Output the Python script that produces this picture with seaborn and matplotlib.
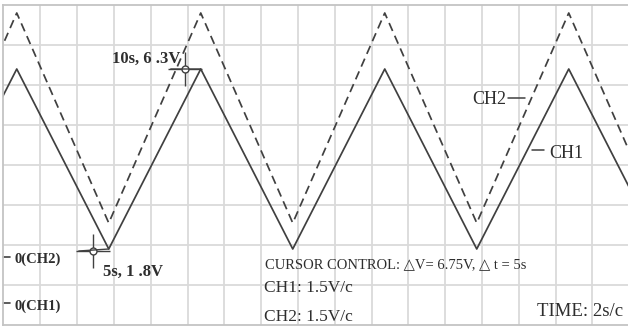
import numpy as np
import pandas as pd
import matplotlib
matplotlib.use("Agg")
import matplotlib.pyplot as plt
import matplotlib.transforms as mtransforms
import seaborn as sns

# Triangle-wave vertices: time in seconds, level in screen units (1 unit = 1 division)
vertex_t = [-5, 0, 5, 10, 15, 20, 25, 30, 35]
ch1_level = [1.8, 6.3, 1.8, 6.3, 1.8, 6.3, 1.8, 6.3, 1.8]
ch2_level = [2.45, 7.7, 2.45, 7.7, 2.45, 7.7, 2.45, 7.7, 2.45]
channels = ["CH1", "CH2"]

# Ground reference markers on the left edge
zero_level = [0.45, 1.6]
zero_labels = ["0(CH1)", "0(CH2)"]

# Cursor readouts
cursor_t = [5, 10]
cursor_v = [1.8, 6.3]
cursor_labels = ["5s, 1 .8V", "10s, 6 .3V"]

readout_text = "CURSOR CONTROL: \u25B3V= 6.75V, \u25B3 t = 5s"
scale_texts = ["CH1: 1.5V/c", "CH2: 1.5V/c"]
time_text = "TIME: 2s/c"

sns.set_theme(style="white")
plt.rcParams["font.family"] = ["Liberation Serif", "DejaVu Sans"]

W, H = 628, 327
fig = plt.figure(figsize=(W / 100, H / 100), dpi=100)
fig.patch.set_facecolor("white")
ax = fig.add_axes([3.5 / W, (H - 325) / H, 625.5 / W, 320 / H])

ink = "#404040"
txt = "#2e2e2e"

df = pd.DataFrame({
    "t": vertex_t * 2,
    "v": ch1_level + ch2_level,
    "ch": [channels[0]] * len(vertex_t) + [channels[1]] * len(vertex_t),
})
sns.lineplot(data=df, x="t", y="v", hue="ch", style="ch",
             palette={"CH1": ink, "CH2": ink},
             dashes={"CH1": "", "CH2": (5, 3)},
             linewidth=1.25, legend=False, estimator=None, sort=False, ax=ax)

t0 = -0.72
sec_per_px = 1 / 18.4
ax.set_xlim(t0, t0 + 625.5 * sec_per_px)
ax.set_ylim(-0.1, 7.9)
ax.set_xticks(np.arange(t0 + 2, t0 + 625.5 * sec_per_px, 2))
ax.set_yticks(np.arange(0.9, 7.9, 1.0))
ax.grid(True, color="#dadada", linewidth=1.3)
ax.tick_params(length=0, labelbottom=False, labelleft=False)
ax.set_xlabel("")
ax.set_ylabel("")
for s in ax.spines.values():
    s.set_color("#c4c4c4")
    s.set_linewidth(1.3)


def ax_frac(px, py):
    return ((px - 3.5) / 625.5, (325 - py) / 320)


# Cursors: crosshair with a leader to the waveform vertex
for t, v, dy in zip(cursor_t, cursor_v, [-2, 0]):
    ax.annotate("", xy=(t, v), xytext=(-30, dy), textcoords="offset pixels",
                arrowprops=dict(arrowstyle="-", color=ink, lw=1.0,
                                shrinkA=0, shrinkB=0))
    tr = mtransforms.offset_copy(ax.transData, fig=fig, x=-16, y=dy, units="dots")
    ax.plot([t], [v], marker="+", ms=24, mew=1.0, color=ink, transform=tr,
            clip_on=False)
    ax.plot([t], [v], marker="o", ms=5, mew=1.0, mfc="white", mec=ink,
            transform=tr, clip_on=False)

ax.annotate(cursor_labels[0], xy=(cursor_t[0], cursor_v[0]), xytext=(-6, -23),
            textcoords="offset pixels", ha="left", va="center",
            fontsize=12, fontweight="bold", color=txt)
ax.annotate(cursor_labels[1], xy=(cursor_t[1], cursor_v[1]), xytext=(-20, 10),
            textcoords="offset pixels", ha="right", va="center",
            fontsize=12, fontweight="bold", color=txt)

# Ground markers
blend = mtransforms.blended_transform_factory(ax.transAxes, ax.transData)
for lvl, lab, dy in zip(zero_level, zero_labels, [-0.07, -0.05]):
    ax.plot([0.0, 0.011], [lvl, lvl], color=ink, lw=1.2, transform=blend,
            clip_on=False)
    ax.text(0.017, lvl + dy, lab, transform=blend, ha="left", va="center",
            fontsize=10.5, fontweight="bold", color=txt)

# Channel tags
x, y = ax_frac(506, 99)
ax.text(x, y, "CH2", transform=ax.transAxes, ha="right", va="center",
        fontsize=13, color=txt)
ax.plot([ax_frac(508, 0)[0], ax_frac(525, 0)[0]], [ax_frac(0, 98)[1]] * 2,
        color=ink, lw=1.1, transform=ax.transAxes)
x, y = ax_frac(549, 153)
ax.text(x, y, "CH1", transform=ax.transAxes, ha="left", va="center",
        fontsize=13, color=txt)
ax.plot([ax_frac(532, 0)[0], ax_frac(544, 0)[0]], [ax_frac(0, 150)[1]] * 2,
        color=ink, lw=1.1, transform=ax.transAxes)

# Readouts
x, y = ax_frac(265, 265)
ax.text(x, y, readout_text, transform=ax.transAxes, ha="left", va="center",
        fontsize=10.5, color=txt)
for py, s in zip([288, 317], scale_texts):
    x, y = ax_frac(264, py)
    ax.text(x, y, s, transform=ax.transAxes, ha="left", va="center",
            fontsize=12.5, color=txt)
x, y = ax_frac(623, 312)
ax.text(x, y, time_text, transform=ax.transAxes, ha="right", va="center",
        fontsize=13.5, color=txt)

fig.savefig("out.png", dpi=100, facecolor="white")
